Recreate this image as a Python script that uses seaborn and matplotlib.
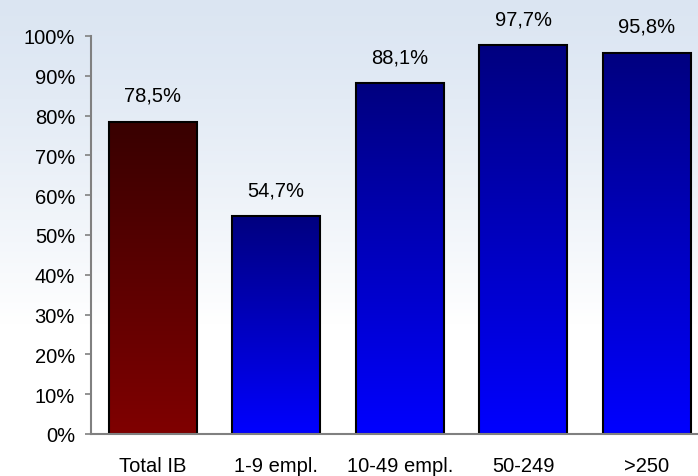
import matplotlib
matplotlib.use('Agg')
import matplotlib.pyplot as plt
import seaborn as sns
import numpy as np
import pandas as pd

categories = ['Total IB', '1-9 empl.', '10-49 empl.', '50-249', '>250']
values = [78.5, 54.7, 88.1, 97.7, 95.8]
labels = ['78,5%', '54,7%', '88,1%', '97,7%', '95,8%']

df = pd.DataFrame({'category': categories, 'value': values})

sns.set_style('white')
plt.rcParams['font.family'] = ['Liberation Sans', 'DejaVu Sans']
plt.rcParams['text.color'] = 'black'
plt.rcParams['xtick.labelcolor'] = 'black'
plt.rcParams['ytick.labelcolor'] = 'black'

fig = plt.figure(figsize=(6.98, 4.77), dpi=100)

# light blue -> white page background
bg = fig.add_axes([0, 0, 1, 1], zorder=-10)
t = np.linspace(0, 1, 256)
w = np.clip(t / 0.68, 0, 1)[:, None] ** 1.3
top = np.array([0.86, 0.90, 0.95])
grad = (top * (1 - w) + np.ones(3) * w)[:, None, :]
bg.imshow(np.repeat(grad, 4, axis=1), aspect='auto', extent=[0, 1, 0, 1], origin='upper')
bg.axis('off')

ax = fig.add_axes([91 / 698, 42 / 477, 617.5 / 698, 398 / 477])
ax.set_facecolor('none')
sns.barplot(data=df, x='category', y='value', ax=ax, width=0.71,
            color='white', edgecolor='black', linewidth=1.5, saturation=1)

grad_colors = [((0.22, 0, 0), (0.50, 0, 0))] + [((0, 0, 0.50), (0, 0, 1.0))] * 4
for patch, (c_top, c_bot) in zip(ax.patches, grad_colors):
    x0, y0 = patch.get_x(), patch.get_y()
    wdt, hgt = patch.get_width(), patch.get_height()
    s = np.linspace(0, 1, 200)[:, None]
    img = (np.array(c_top) * (1 - s) + np.array(c_bot) * s)[:, None, :]
    im = ax.imshow(img, aspect='auto', extent=[x0, x0 + wdt, y0, y0 + hgt],
                   origin='upper', zorder=patch.get_zorder() - 0.1)
    im.set_clip_path(patch)
    patch.set_facecolor('none')

for i, (v, lab) in enumerate(zip(values, labels)):
    ax.annotate(lab, (i, v), xytext=(0, 19), textcoords='offset points',
                ha='center', va='center', fontsize=14.5, color='black')

ax.set_xlim(-0.5, 4.5)
ax.set_ylim(0, 100)
ax.set_yticks(range(0, 101, 10))
ax.set_yticklabels([f'{p}%' for p in range(0, 101, 10)])
ax.set_xticks(np.arange(-0.5, 5, 1), minor=True)
ax.tick_params(axis='x', which='major', length=0, pad=16, labelsize=14.5)
ax.tick_params(axis='x', which='minor', length=5, width=1.2, color='#808080', direction='out')
ax.tick_params(axis='y', length=4.5, width=1.2, color='#808080', direction='out', pad=7, labelsize=14.5, left=True)
ax.set_xlabel('')
ax.set_ylabel('')
for s in ['top', 'right']:
    ax.spines[s].set_visible(False)
for s in ['left', 'bottom']:
    ax.spines[s].set_color('#808080')
    ax.spines[s].set_linewidth(1.5)

fig.savefig('out.png', dpi=100)
